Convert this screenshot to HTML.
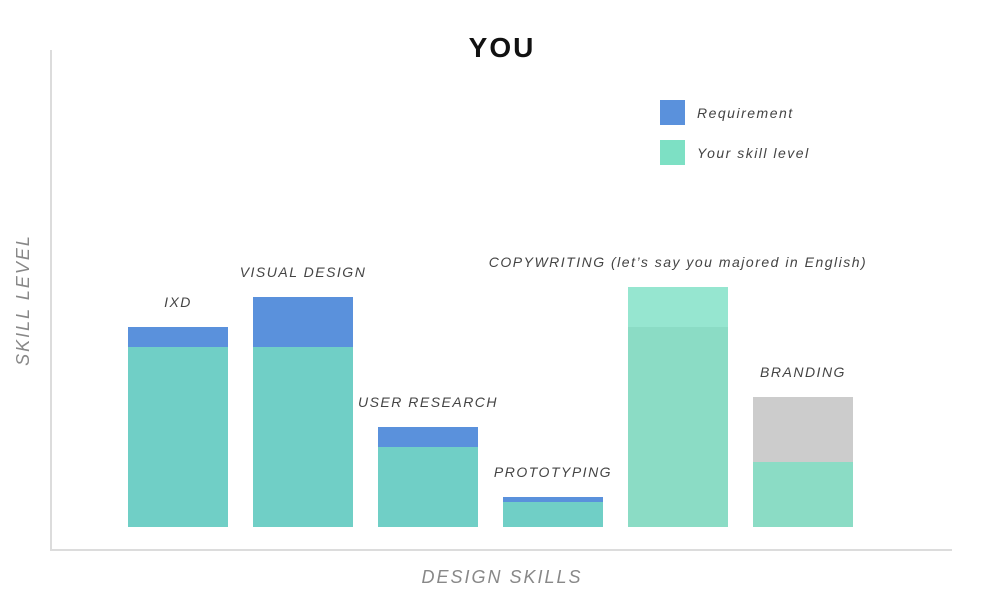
<!DOCTYPE html>
<html><head><meta charset="utf-8"><style>
body{margin:0;background:#fff}
svg{display:block;font-family:"Liberation Sans",sans-serif}
</style></head><body>
<svg width="1000" height="600">
<text x="502" y="57" text-anchor="middle" font-size="28" font-weight="bold" letter-spacing="2" fill="#111">YOU</text>
<line x1="51" y1="50" x2="51" y2="551" stroke="#dcdcdc" stroke-width="2"/>
<line x1="50" y1="550" x2="952" y2="550" stroke="#dcdcdc" stroke-width="2"/>
<text transform="translate(29,300) rotate(-90)" text-anchor="middle" font-size="18" font-style="italic" letter-spacing="2" fill="#888">SKILL LEVEL</text>
<text x="502" y="583" text-anchor="middle" font-size="18" font-style="italic" letter-spacing="2" fill="#888">DESIGN SKILLS</text>
<g>
<rect x="660" y="100" width="25" height="25" fill="#5a91dc"/>
<text x="697" y="118" font-size="14" font-style="italic" letter-spacing="1.5" fill="#444">Requirement</text>
<rect x="660" y="140" width="25" height="25" fill="#7de0c4"/>
<text x="697" y="158" font-size="14" font-style="italic" letter-spacing="1.5" fill="#444">Your skill level</text>
</g>
<g id="bars"></g>
</svg>
<script>
const categories=["IXD","VISUAL DESIGN","USER RESEARCH","PROTOTYPING","COPYWRITING (let’s say you majored in English)","BRANDING"];
const requirement=[20,23,10,3,20,13];
const skill=[18,18,8,2.5,24,6.5];
const ns="http://www.w3.org/2000/svg";
const g=document.getElementById("bars");
const base=527, unit=10, x0=128, step=125, bw=100;
function y(v){return base-v*unit;}
function x(i){return x0+i*step;}
function rect(px,py,w,h,fill,name){
  const r=document.createElementNS(ns,"rect");
  r.setAttribute("x",px);r.setAttribute("y",py);r.setAttribute("width",w);r.setAttribute("height",h);r.setAttribute("fill",fill);
  
  
  g.appendChild(r);
}
categories.forEach((c,i)=>{
  const r=requirement[i], s=skill[i];
  const slug=c.split(" ")[0].toLowerCase();
  if(c==="BRANDING"){
    rect(x(i),y(r),bw,y(s)-y(r),"#cccccc","bar-"+slug+"-requirement");
    rect(x(i),y(s),bw,base-y(s),"#8bdcc5","bar-"+slug+"-skill");
  } else if(s>r){
    rect(x(i),y(s),bw,y(r)-y(s),"#96e6d0","bar-"+slug+"-skill-excess");
    rect(x(i),y(r),bw,base-y(r),"#8bdcc5","bar-"+slug+"-skill");
  } else {
    rect(x(i),y(r),bw,y(s)-y(r),"#5a91dc","bar-"+slug+"-requirement");
    rect(x(i),y(s),bw,base-y(s),"#70cfc6","bar-"+slug+"-skill");
  }
  const t=document.createElementNS(ns,"text");
  const top=Math.max(r,s);
  t.setAttribute("x",x(i)+bw/2);t.setAttribute("y",y(top)-20);
  t.setAttribute("text-anchor","middle");t.setAttribute("font-size","14");t.setAttribute("font-style","italic");
  t.setAttribute("letter-spacing","1.5");t.setAttribute("fill","#444");
  t.textContent=c;
  
  
  g.appendChild(t);
});
</script>
</body></html>
